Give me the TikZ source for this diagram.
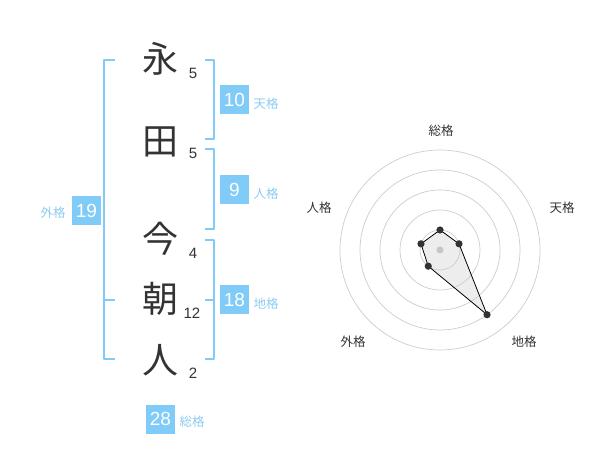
\documentclass[tikz,border=0pt]{standalone}
\usepackage{fontspec}
\setmainfont{Noto Sans CJK JP}
\newfontfamily\numfont{Liberation Sans}
\definecolor{kakusky}{HTML}{80CBF8}
\definecolor{kakutext}{HTML}{8DCBF2}
\definecolor{inkgray}{HTML}{333333}
\tikzset{
  kanji/.style={font=\fontsize{36}{36}\selectfont, text=inkgray, inner sep=0pt},
  strokes/.style={font=\numfont\fontsize{15}{15}\selectfont, text=inkgray, inner sep=0pt},
  kakubox/.style={fill=kakusky, text=white, minimum size=29pt, inner sep=0pt, font=\numfont\fontsize{19}{19}\selectfont},
  kakuname/.style={text=kakutext, font=\fontsize{12.5}{12.5}\selectfont, inner sep=0pt},
  bracket/.style={draw=kakusky, line width=2pt},
  axisname/.style={text=inkgray, font=\fontsize{12.5}{12.5}\selectfont, inner sep=0pt}
}
\begin{document}
\begin{tikzpicture}[x=1pt,y=-1pt,line join=round,line cap=butt]
			\useasboundingbox (0,0) rectangle (600,470);
			% name and stroke counts
			\node[kanji] (ei) at (160,59) {永};
			\node[kanji] (ta) at (160,142) {田};
			\node[kanji] (ima) at (160,239) {今};
			\node[kanji] (asa) at (160,299) {朝};
			\node[kanji] (hito) at (160,360) {人};
			\node[strokes] (sei) at (193,73) {5};
			\node[strokes] (stb) at (193,153) {5};
			\node[strokes] (sima) at (193,253) {4};
			\node[strokes] (sasa) at (192,313) {12};
			\node[strokes] (shito) at (193,373) {2};
			% brackets
			\draw[bracket] (205,60) -- (214,60) -- (214,139) -- (205,139);
			\draw[bracket] (205,149) -- (214,149) -- (214,229) -- (205,229);
			\draw[bracket] (205,240) -- (214,240) -- (214,359) -- (205,359);
			\draw[bracket] (205,300) -- (214,300);
			\draw[bracket] (115,60) -- (104,60) -- (104,359) -- (115,359);
			\draw[bracket] (104,300) -- (115,300);
			% fortune numbers
			\node[kakubox] (ten) at (234.5,100) {10};
			\node[kakuname] (tenname) at (266,104) {天格};
			\node[kakubox] (jin) at (234.5,190) {9};
			\node[kakuname] (jinname) at (266,194) {人格};
			\node[kakubox] (chi) at (234.5,300) {18};
			\node[kakuname] (chiname) at (266,304) {地格};
			\node[kakubox] (gai) at (86.5,210.5) {19};
			\node[kakuname] (gainame) at (53,213) {外格};
			\node[kakubox] (sou) at (160.5,419) {28};
			\node[kakuname] (souname) at (192,422) {総格};
			% radar
			\begin{scope}[shift={(440,250)},x=1pt,y=1pt]
				\coordinate (O) at (0,0);
				\coordinate (A) at (90:20);
				\coordinate (B) at (18:20);
				\coordinate (C) at (-54:80);
				\coordinate (D) at (-126:20);
				\coordinate (E) at (162:20);
				\fill[gray!14] (A)--(B)--(C)--(D)--(E)--cycle;
				\foreach \r in {20,40,60,80,100}
					\draw[gray!40,line width=0.7pt] (O) circle (\r);
				\draw[line width=0.8pt] (A)--(B)--(C)--(D)--(E)--cycle;
				\fill[gray!45] (O) circle (3.5);
				\foreach \p in {A,B,C,D,E}
					\fill[inkgray] (\p) circle (3.6);
			\end{scope}
			\node[axisname] (rsou) at (441,131) {総格};
			\node[axisname] (rten) at (562,208) {天格};
			\node[axisname] (rchi) at (524,342) {地格};
			\node[axisname] (rgai) at (353,342) {外格};
			\node[axisname] (rjin) at (319,208) {人格};
		\end{tikzpicture}
\end{document}
